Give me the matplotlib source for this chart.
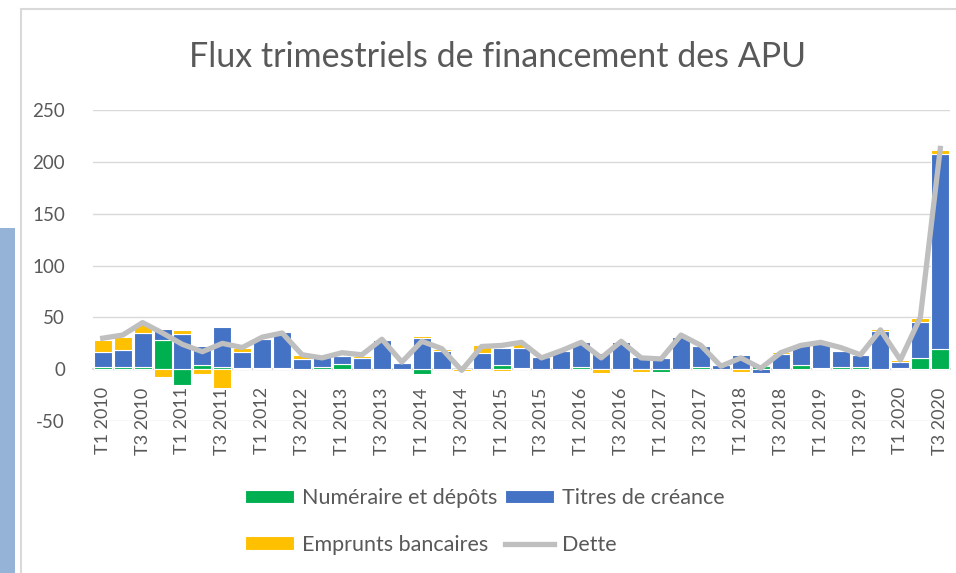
import matplotlib.pyplot as plt
import matplotlib.patches as mpatches
import numpy as np

plt.rcParams['font.family'] = ['Lato', 'DejaVu Sans']
plt.rcParams['axes.unicode_minus'] = False

# quarters T1 2010 .. T3 2020
quarters = []
for year in range(2010, 2021):
    for q in range(1, 5):
        quarters.append('T%d %d' % (q, year))
quarters = quarters[:43]

numeraire = [2, 2, 2, 28, -15, 4, 2, 1, 1, 1, 0, 2, 5, 0, 0, 0, -5, 0, 0, 0,
             4, 1, 0, 0, 2, 0, 0, 0, -3, 0, 2, 0, 0, 3, 0, 4, 1, 2, 2, 0,
             1, 11, 20]
titres = [15, 17, 33, 11, 34, 18, 39, 16, 28, 35, 10, 10, 8, 11, 28, 6, 30, 18, 0.5, 16,
          17, 20, 12, 18, 24, 16, 26, 12, 11, 31, 20, 4, 14, -4, 15, 19, 23, 16, 12, 37,
          6.5, 35, 188]
emprunts = [11, 12, 9, -7, 4, -5, -18, 4, 1.5, 1, 4, 0, 0, 1.5, 0, 1.3, 2.5, 1.3, -1.5, 7,
            -1.5, 3, 0, 1, 0, -4, 1.3, -3, 1, 0, 0, 0, -3, 0, 1.3, 0, 0, 0, 0, 1.5,
            1.5, 3.3, 3.5]
dette = [30, 33, 45, 35, 24, 17, 25, 21, 31, 35, 14, 11, 16, 14, 29, 7, 27, 20, -1, 22,
         23, 26, 11, 18, 26, 11, 27, 11, 10, 33, 23, 3, 11, 1, 16, 23, 26, 21, 14, 38,
         9, 50, 213]

series = [(numeraire, '#00B050', 'Numéraire et dépôts'),
          (titres, '#4472C4', 'Titres de créance'),
          (emprunts, '#FFC000', 'Emprunts bancaires')]

fig = plt.figure(figsize=(9.56, 5.73), dpi=100)
ax = fig.add_axes([0.097, 0.265, 0.897, 0.543])

x = np.arange(len(quarters))
pos_base = np.zeros(len(x))
neg_base = np.zeros(len(x))
for vals, col, lab in series:
    v = np.array(vals, dtype=float)
    bottom = np.where(v >= 0, pos_base, neg_base)
    ax.bar(x, v, bottom=bottom, width=0.9, color=col, edgecolor='white',
           linewidth=0.8, label=lab, zorder=2)
    pos_base = pos_base + np.where(v >= 0, v, 0)
    neg_base = neg_base + np.where(v < 0, v, 0)

ax.plot(x, dette, color='#BFBFBF', linewidth=3.8, label='Dette', zorder=3,
        solid_joinstyle='round')

ax.set_xlim(-0.5, 42.5)
ax.set_ylim(-50, 250)
ax.set_yticks(range(-50, 251, 50))
ax.yaxis.grid(True, color='#D9D9D9', linewidth=1)
ax.set_axisbelow(True)
for s in ['top', 'right', 'left']:
    ax.spines[s].set_visible(False)
ax.spines['bottom'].set_position(('data', 0))
ax.spines['bottom'].set_color('#D9D9D9')
ax.spines['bottom'].set_linewidth(1.3)
ax.spines['bottom'].set_zorder(1)

ax.set_xticks(x[::2])
ax.set_xticklabels(quarters[::2], rotation=90)
ax.tick_params(axis='x', length=0, pad=13, labelsize=13, labelcolor='#595959')
ax.tick_params(axis='y', length=0, pad=20, labelsize=13.5, labelcolor='#595959')

fig.text(0.52, 0.90, 'Flux trimestriels de financement des APU', ha='center',
         va='center', fontsize=24.5, color='#595959')

handles, labels = ax.get_legend_handles_labels()
order = [1, 3, 2, 0]
leg = fig.legend([handles[i] for i in order], [labels[i] for i in order],
                 loc='center', bbox_to_anchor=(0.507, 0.09), ncol=2, frameon=False,
                 fontsize=15.5, handlelength=2.3, handleheight=0.6, labelspacing=1.25,
                 columnspacing=0.35, handletextpad=0.35)
for t in leg.get_texts():
    t.set_color('#595959')

# chart frame and neighbouring screenshot bits
fig.patches.append(mpatches.Rectangle((21 / 956, -0.01), 1.0, 1 - 9 / 573 + 0.01,
                                      transform=fig.transFigure, fill=False,
                                      edgecolor='#D9D9D9', linewidth=1.5))
fig.patches.append(mpatches.Rectangle((0, 0), 15 / 956, 1 - 228 / 573,
                                      transform=fig.transFigure,
                                      facecolor='#95B3D7', edgecolor='none'))

fig.savefig('out.png', dpi=100)
